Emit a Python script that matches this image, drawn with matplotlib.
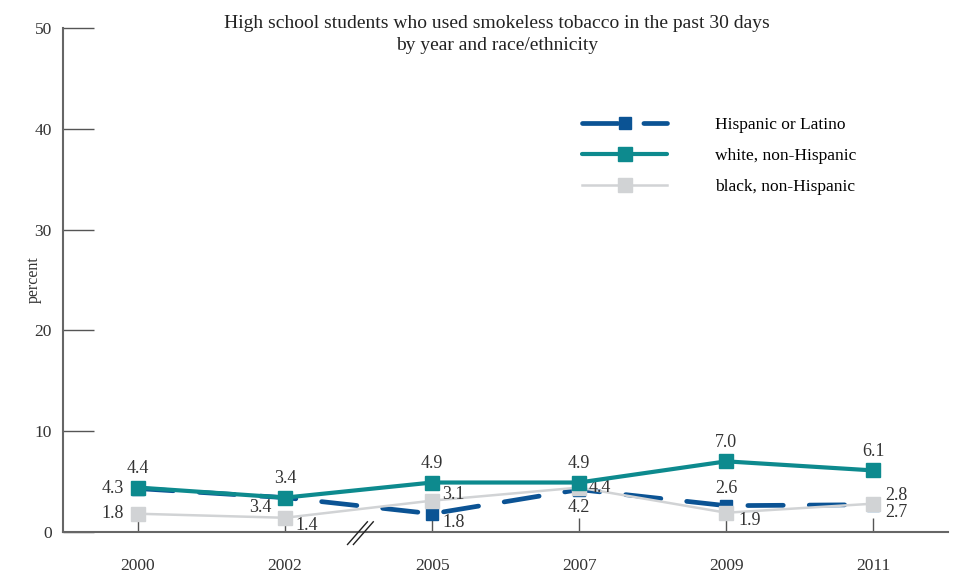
import matplotlib.pyplot as plt

years = ['2000', '2002', '2005', '2007', '2009', '2011']
hispanic = [4.3, 3.4, 1.8, 4.2, 2.6, 2.7]
white = [4.4, 3.4, 4.9, 4.9, 7.0, 6.1]
black = [1.8, 1.4, 3.1, 4.4, 1.9, 2.8]

plt.rcParams['font.family'] = ['Liberation Serif', 'DejaVu Serif']

fig = plt.figure(figsize=(9.54, 5.75), dpi=100)
ax = fig.add_axes([0.066, 0.075, 0.928, 0.876])
x = list(range(len(years)))

c_hisp = '#0b5394'
c_white = '#0d8a8e'
c_black = '#d1d3d5'

ax.plot(x, hispanic, color=c_hisp, lw=3.4, ls=(0, (7.5, 5.5)), dash_capstyle='round',
        marker='s', ms=9, zorder=2, label='Hispanic or Latino')
ax.plot(x, white, color=c_white, lw=3.0, solid_capstyle='round',
        marker='s', ms=9.5, zorder=4, label='white, non-Hispanic')
ax.plot(x, black, color=c_black, lw=1.8, marker='s', ms=9.5, zorder=3,
        label='black, non-Hispanic')

# value labels: (offset px, ha)
lab_kw = dict(textcoords='offset pixels', fontsize=13, color='#333333', va='center')
for i, v in enumerate(white):
    ax.annotate(f'{v:.1f}', (i, v), xytext=(0, 19), ha='center', **lab_kw)

hisp_off = [(-14, 0, 'right'), (-14, -10, 'right'), (10, -9, 'left'),
            (0, -18, 'center'), (0, 17, 'center'), (12, -8, 'left')]
black_off = [(-14, 0, 'right'), (10, -8, 'left'), (10, 6, 'left'),
             (9, 0, 'left'), (12, -8, 'left'), (12, 8, 'left')]
for i, v in enumerate(hispanic):
    dx, dy, ha = hisp_off[i]
    ax.annotate(f'{v:.1f}', (i, v), xytext=(dx, dy), ha=ha, **lab_kw)
for i, v in enumerate(black):
    dx, dy, ha = black_off[i]
    ax.annotate(f'{v:.1f}', (i, v), xytext=(dx, dy), ha=ha, **lab_kw)

ax.set_xlim(-0.51, 5.51)
ax.set_ylim(0, 50)
ax.set_xticks(x)
ax.set_xticklabels(years)
ax.set_yticks([0, 10, 20, 30, 40, 50])
ax.tick_params(axis='y', direction='in', length=22, width=1, color='#555555',
               labelsize=12.5, pad=8, labelcolor='#333333')
ax.tick_params(axis='x', direction='in', length=10, width=1, color='#555555',
               labelsize=12.5, pad=19, labelcolor='#333333')
for s in ['top', 'right']:
    ax.spines[s].set_visible(False)
for s in ['left', 'bottom']:
    ax.spines[s].set_color('#666666')
    ax.spines[s].set_linewidth(1.5)
ax.set_ylabel('percent', fontsize=11.5, labelpad=-5, color='#333333')

# axis break marks
trans = ax.get_xaxis_transform()
for bx in [1.49, 1.53]:
    ax.plot([bx - 0.065, bx + 0.07], [-0.025, 0.02], color='#222222', lw=1.0,
            transform=trans, clip_on=False, zorder=5)

ax.legend(loc='upper left', bbox_to_anchor=(0.569, 0.855), frameon=False,
          handlelength=4.9, fontsize=12.5, labelspacing=0.85, handletextpad=2.75)

fig.text(0.521, 0.94, 'High school students who used smokeless tobacco in the past 30 days\nby year and race/ethnicity',
         ha='center', va='center', fontsize=14, color='#222222', linespacing=1.4)

fig.savefig('out.png', dpi=100)
